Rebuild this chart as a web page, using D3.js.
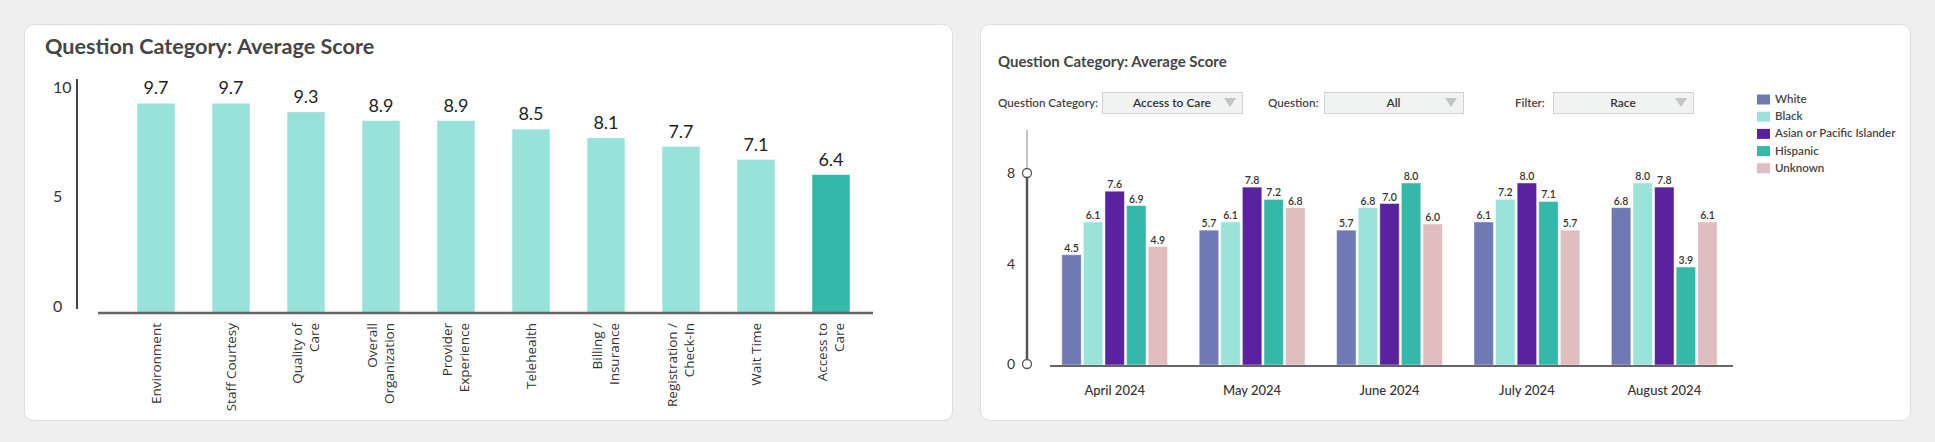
<!DOCTYPE html>
<html>
<head>
<meta charset="utf-8">
<script src="https://cdn.jsdelivr.net/npm/d3@7"></script>
<style>
  body { margin: 0; background: #efefef; }
  svg { display: block; font-family: Lato, sans-serif; }
</style>
</head>
<body>
<div class="chart"></div>
<script>
// left chart data
const categories = ['Environment', 'Staff Courtesy', 'Quality of|Care', 'Overall|Organization',
  'Provider|Experience', 'Telehealth', 'Billing /|Insurance', 'Registration /|Check-In', 'Wait Time', 'Access to|Care'];
const scores = [9.7, 9.7, 9.3, 8.9, 8.9, 8.5, 8.1, 7.7, 7.1, 6.4];
const leftTicks = [0, 5, 10];

// right chart data
const months = ['April 2024', 'May 2024', 'June 2024', 'July 2024', 'August 2024'];
const races = ['White', 'Black', 'Asian or Pacific Islander', 'Hispanic', 'Unknown'];
const white    = [4.5, 5.7, 5.7, 6.1, 6.8];
const black    = [6.1, 6.1, 6.8, 7.2, 8.0];
const asian    = [7.6, 7.8, 7.0, 8.0, 7.8];
const hispanic = [6.9, 7.2, 8.0, 7.1, 3.9];
const unknown  = [4.9, 6.8, 6.0, 5.7, 6.1];
const rightTicks = [0, 4, 8];
const dropdowns = [['Question Category:', 'Access to Care'], ['Question:', 'All'], ['Filter:', 'Race']];

const raceColors = ['#6f7ab5', '#9ae3db', '#5b22a0', '#33b8a9', '#e0bdbf'];
const seriesData = [white, black, asian, hispanic, unknown];

const W = 1935, H = 442;
const svg = d3.select('.chart').append('svg')
    .attr('width', W)
    .attr('height', H);

svg.append('rect').attr('width', W).attr('height', H).attr('fill', '#efefef');

// cards
svg.append('rect').attr('x', 24.5).attr('y', 24.5).attr('width', 928).attr('height', 396)
    .attr('rx', 9).attr('fill', '#fff').attr('stroke', '#dedede');
svg.append('rect').attr('x', 980.5).attr('y', 24.5).attr('width', 930).attr('height', 396)
    .attr('rx', 9).attr('fill', '#fff').attr('stroke', '#dedede');

// ---------- left chart ----------
svg.append('text')
    .text('Question Category: Average Score')
    .attr('x', 45).attr('y', 54)
    .attr('font-size', 21.6).attr('font-weight', 700).attr('fill', '#454545');

const x = d3.scaleBand()
    .domain(categories)
    .range([118.5, 868.5])
    .paddingInner(0.5)
    .paddingOuter(0.25);
const y = d3.scaleLinear().domain([0, 10]).range([313, 97]);
const yAx = d3.scaleLinear().domain([0, 10]).range([306, 87]);
const leftBase = y(0);

svg.append('line')
    .attr('x1', 77).attr('x2', 77).attr('y1', 79).attr('y2', 309)
    .attr('stroke', '#444').attr('stroke-width', 2);

svg.selectAll('.ltick')
    .data(leftTicks)
    .enter()
    .append('text')
    .attr('class', 'ltick')
    .text(d => d)
    .attr('x', 53)
    .attr('y', d => yAx(d))
    .attr('dy', '0.35em')
    .attr('font-size', 16)
    .attr('fill', '#333');

svg.selectAll('.lbar')
    .data(scores)
    .enter()
    .append('rect')
    .attr('class', 'lbar')
    .attr('x', (d, i) => x(categories[i]))
    .attr('y', d => y(d))
    .attr('width', x.bandwidth())
    .attr('height', d => leftBase - y(d))
    .attr('fill', (d, i) => i == scores.length - 1 ? '#33b8a9' : '#98e2da');

svg.selectAll('.lval')
    .data(scores)
    .enter()
    .append('text')
    .attr('class', 'lval')
    .text(d => d.toFixed(1))
    .attr('x', (d, i) => x(categories[i]) + x.bandwidth() / 2)
    .attr('y', d => y(d) - 9)
    .attr('text-anchor', 'middle')
    .attr('font-size', 18)
    .attr('fill', '#222');

svg.append('line')
    .attr('x1', 98).attr('x2', 873).attr('y1', leftBase).attr('y2', leftBase)
    .attr('stroke', '#666').attr('stroke-width', 2.5);

categories.forEach((c, i) => {
    const lines = c.split('|');
    const cx = x(c) + x.bandwidth() / 2;
    lines.forEach((l, j) => {
        const off = (j - (lines.length - 1) / 2) * 17;
        svg.append('text')
            .text(l)
            .attr('transform', `translate(${cx + off},${leftBase + 10}) rotate(-90)`)
            .attr('dy', '0.35em')
            .attr('text-anchor', 'end')
            .attr('font-family', '"Open Sans", sans-serif')
            .attr('font-size', 13.5)
            .attr('fill', '#333');
    });
});

// ---------- right chart ----------
svg.append('text')
    .text('Question Category: Average Score')
    .attr('x', 998).attr('y', 67)
    .attr('font-size', 15).attr('font-weight', 700).attr('fill', '#454545');

const ddPos = [[998, 1102, 140], [1268, 1324, 139], [1515, 1553, 140]];
dropdowns.forEach((d, i) => {
    const p = ddPos[i];
    svg.append('text').text(d[0])
        .attr('x', p[0]).attr('y', 107)
        .attr('font-size', 11.6).attr('font-weight', 600).attr('fill', '#444');
    svg.append('rect')
        .attr('x', p[1] + 0.5).attr('y', 92.5).attr('width', p[2]).attr('height', 21)
        .attr('fill', '#f1f2f2').attr('stroke', '#d2d2d2');
    svg.append('text').text(d[1])
        .attr('x', p[1] + p[2] / 2).attr('y', 107)
        .attr('text-anchor', 'middle')
        .attr('font-size', 12).attr('font-weight', 600).attr('fill', '#333');
    const tx = p[1] + p[2] - 12;
    svg.append('path')
        .attr('d', `M${tx - 6},98 L${tx + 6},98 L${tx},107 Z`)
        .attr('fill', '#c4c4c4');
});

// legend
const legend = svg.selectAll('.leg')
    .data(races)
    .enter()
    .append('g')
    .attr('class', 'leg')
    .attr('transform', (d, i) => `translate(1757,${99 + i * 17.2})`);
legend.append('rect')
    .attr('y', -4.5).attr('width', 13).attr('height', 10)
    .attr('fill', (d, i) => raceColors[i]);
legend.append('text')
    .text(d => d)
    .attr('x', 18).attr('dy', '0.35em')
    .attr('font-size', 11.5).attr('font-weight', 600).attr('fill', '#444');

const x0 = d3.scaleBand()
    .domain(months)
    .range([1046, 1733])
    .paddingInner(0.23)
    .paddingOuter(0.115);
const x1 = d3.scaleBand()
    .domain(races)
    .range([0, x0.bandwidth()])
    .paddingInner(0.1);
const y2 = d3.scaleLinear().domain([0, 8]).range([347, 183]);
const yAx2 = d3.scaleLinear().domain([0, 8]).range([364, 173]);
const rightBase = 365;

// slider-like axis
svg.append('line')
    .attr('x1', 1027).attr('x2', 1027).attr('y1', 130).attr('y2', yAx2(8))
    .attr('stroke', '#b0b0b0').attr('stroke-width', 1.5);
svg.append('line')
    .attr('x1', 1027).attr('x2', 1027).attr('y1', yAx2(8)).attr('y2', yAx2(0))
    .attr('stroke', '#555').attr('stroke-width', 2.5);
svg.selectAll('.rtick')
    .data(rightTicks)
    .enter()
    .append('text')
    .attr('class', 'rtick')
    .text(d => d)
    .attr('x', 1007)
    .attr('y', d => d == 4 ? yAx2(d) - 4 : yAx2(d))
    .attr('dy', '0.35em')
    .attr('font-size', 14)
    .attr('fill', '#333');
svg.selectAll('.knob')
    .data([0, 8])
    .enter()
    .append('circle')
    .attr('class', 'knob')
    .attr('cx', 1027)
    .attr('cy', d => yAx2(d))
    .attr('r', 4.5)
    .attr('fill', '#fff')
    .attr('stroke', '#555')
    .attr('stroke-width', 1.3);

const groups = svg.selectAll('.grp')
    .data(months)
    .enter()
    .append('g')
    .attr('class', 'grp')
    .attr('transform', d => `translate(${x0(d)},0)`);

groups.selectAll('rect')
    .data((m, mi) => races.map((r, ri) => ({ r, ri, v: seriesData[ri][mi] })))
    .enter()
    .append('rect')
    .attr('x', d => x1(d.r))
    .attr('y', d => y2(d.v))
    .attr('width', x1.bandwidth())
    .attr('height', d => rightBase - y2(d.v))
    .attr('fill', d => raceColors[d.ri])
    .attr('stroke', 'rgba(255,255,255,0.45)')
    .attr('stroke-width', 1);

groups.selectAll('text')
    .data((m, mi) => races.map((r, ri) => ({ r, ri, v: seriesData[ri][mi] })))
    .enter()
    .append('text')
    .text(d => d.v.toFixed(1))
    .attr('x', d => x1(d.r) + x1.bandwidth() / 2)
    .attr('y', d => y2(d.v) - 3)
    .attr('text-anchor', 'middle')
    .attr('font-size', 10.5)
    .attr('font-weight', 600)
    .attr('fill', '#333');

svg.append('line')
    .attr('x1', 1050).attr('x2', 1733).attr('y1', rightBase + 1).attr('y2', rightBase + 1)
    .attr('stroke', '#666').attr('stroke-width', 2);

svg.selectAll('.mlab')
    .data(months)
    .enter()
    .append('text')
    .attr('class', 'mlab')
    .text(d => d)
    .attr('x', d => x0(d) + x0.bandwidth() / 2)
    .attr('y', 390)
    .attr('dy', '0.35em')
    .attr('text-anchor', 'middle')
    .attr('font-size', 13)
    .attr('font-weight', 500)
    .attr('fill', '#333');
</script>
</body>
</html>
